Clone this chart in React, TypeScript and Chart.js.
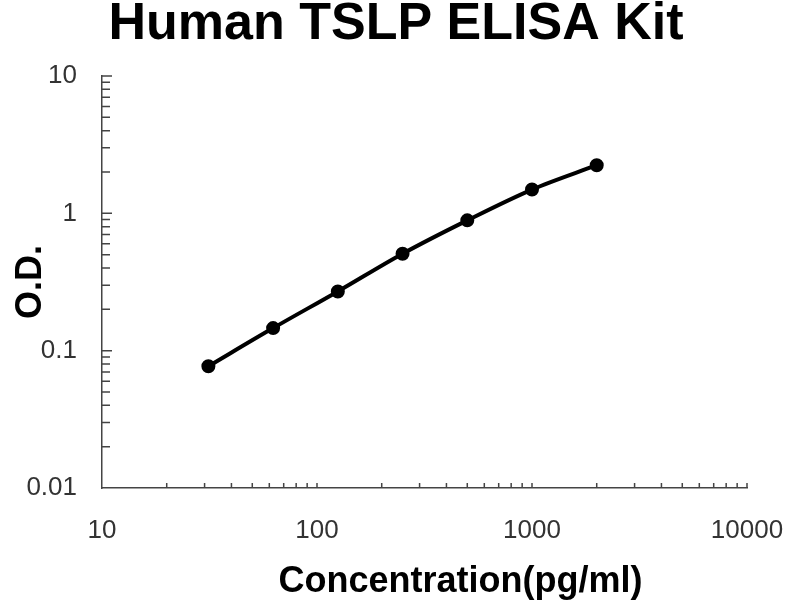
import Chart from "chart.js/auto";
import { useEffect, useRef } from "react";

const chartTitle = "Human TSLP ELISA Kit";
const xTitle = "Concentration(pg/ml)";
const yTitle = "O.D.";

const concentrations = [31.25, 62.5, 125, 250, 500, 1000, 2000];
const odValues = [0.077, 0.146, 0.27, 0.508, 0.889, 1.49, 2.24];

const xTickLabels = [10, 100, 1000, 10000];
const yTickLabels = [0.01, 0.1, 1, 10];

const FONT = "'Liberation Sans', Arial, sans-serif";
const AXIS_COLOR = "#444";

// little tick marks on the inside of both axes, every 1..9 x 10^k, plus the two titles
const axisDecor = {
  id: "axisDecor",
  beforeDatasetsDraw(chart: any) {
    const { ctx, chartArea, scales } = chart;
    ctx.save();
    ctx.strokeStyle = AXIS_COLOR;
    ctx.lineWidth = 1.5;
    ctx.beginPath();
    for (let d = 0; d < yTickLabels.length - 1; d++) {
      for (let m = 1; m <= 9; m++) {
        if (d === 0 && m === 1) continue;
        const py = scales.y.getPixelForValue(yTickLabels[d] * m);
        ctx.moveTo(chartArea.left, py);
        ctx.lineTo(chartArea.left + (m === 1 ? 10 : 8), py);
      }
    }
    const topY = scales.y.getPixelForValue(yTickLabels[yTickLabels.length - 1]);
    ctx.moveTo(chartArea.left, topY);
    ctx.lineTo(chartArea.left + 10, topY);
    for (let d = 0; d < xTickLabels.length - 1; d++) {
      for (let m = 1; m <= 9; m++) {
        if (d === 0 && m === 1) continue;
        const px = scales.x.getPixelForValue(xTickLabels[d] * m);
        ctx.moveTo(px, chartArea.bottom);
        ctx.lineTo(px, chartArea.bottom - 5);
      }
    }
    const rightX = scales.x.getPixelForValue(xTickLabels[xTickLabels.length - 1]);
    ctx.moveTo(rightX, chartArea.bottom);
    ctx.lineTo(rightX, chartArea.bottom - 5);
    ctx.stroke();
    ctx.restore();
  },
  afterDraw(chart: any) {
    const { ctx, chartArea } = chart;
    ctx.save();
    ctx.fillStyle = "#000";
    ctx.textAlign = "center";
    ctx.textBaseline = "alphabetic";
    ctx.font = `bold 52px ${FONT}`;
    ctx.fillText(chartTitle, 396, 39);
    ctx.font = `bold 36px ${FONT}`;
    ctx.fillText(xTitle, (chartArea.left + chartArea.right) / 2 + 36, 592);
    ctx.restore();
  },
};

const App: React.FC = () => {
  const chartRef = useRef<HTMLCanvasElement | null>(null);

  useEffect(() => {
    if (!chartRef.current) return;
    const ctx = chartRef.current.getContext("2d");
    if (!ctx) return;

    const points = concentrations.map((c, i) => ({ x: c, y: odValues[i] }));

    const myChart = new Chart(ctx, {
      type: "scatter",
      data: {
        datasets: [{
          data: points,
          showLine: true,
          borderColor: "#000",
          backgroundColor: "#000",
          borderWidth: 4,
          pointRadius: 5,
          pointHoverRadius: 5,
          cubicInterpolationMode: "monotone",
        }],
      },
      options: {
        responsive: true,
        maintainAspectRatio: false,
        animation: false,
        layout: { padding: { left: 0, right: 53, top: 76, bottom: 0 } },
        scales: {
          x: {
            type: "logarithmic",
            min: 10,
            max: 10000,
            afterBuildTicks: (scale: any) => {
              scale.ticks = xTickLabels.map((v) => ({ value: v }));
            },
            afterFit: (scale: any) => {
              scale.height = 112;
              scale.paddingLeft = 0;
              scale.paddingRight = 0;
            },
            grid: { display: false, drawTicks: false },
            border: { display: true, color: AXIS_COLOR, width: 1.5 },
            ticks: {
              callback: (v: any) => String(v),
              font: { family: FONT, size: 26 },
              color: "#333",
              padding: 27,
              maxRotation: 0,
              autoSkip: false,
            },
          },
          y: {
            type: "logarithmic",
            min: 0.01,
            max: 10,
            afterBuildTicks: (scale: any) => {
              scale.ticks = yTickLabels.map((v) => ({ value: v }));
            },
            afterFit: (scale: any) => {
              scale.width = 102;
            },
            grid: { display: false, drawTicks: false },
            border: { display: true, color: AXIS_COLOR, width: 1.5 },
            ticks: {
              callback: (v: any) => String(v),
              font: { family: FONT, size: 26 },
              color: "#333",
              padding: 25,
              autoSkip: false,
            },
            title: {
              display: true,
              text: yTitle,
              color: "#000",
              font: { family: FONT, size: 36, weight: "bold", lineHeight: 1.2 },
              padding: { top: 9, bottom: 0 },
            },
          },
        },
        plugins: {
          legend: { display: false },
          tooltip: { enabled: false },
        },
      },
      plugins: [axisDecor],
    });
    return () => myChart.destroy();
  }, []);

  return (
    <div style={{ position: "absolute", left: 0, top: 0, width: "800px", height: "600px", background: "#fff" }}>
      <canvas ref={chartRef} />
    </div>
  );
};

export default App;
